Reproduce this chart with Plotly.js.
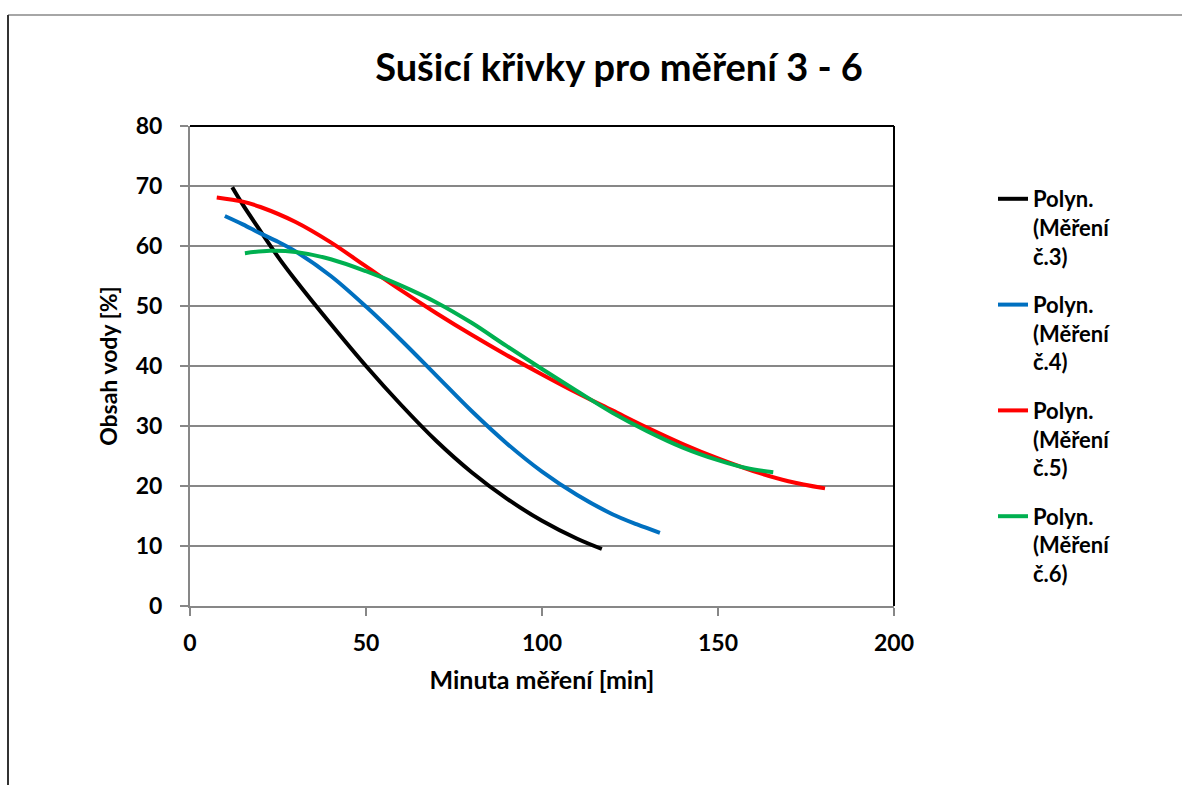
<!DOCTYPE html>
<html>
<head>
<meta charset="utf-8">
<script src="https://cdn.plot.ly/plotly-3.0.1.min.js"></script>
<style>
html,body{margin:0;padding:0;background:#fff;}
#chart{width:1182px;height:785px;}
</style>
</head>
<body>
<div id="chart"></div>
<script>
// Data
const seriesNames = ["Polyn.<br>(Měření<br>č.3)", "Polyn.<br>(Měření<br>č.4)", "Polyn.<br>(Měření<br>č.5)", "Polyn.<br>(Měření<br>č.6)"];
const seriesColors = ["#000000", "#0070C0", "#FF0000", "#00B050"];

const x3 = [12, 15, 20, 25, 30, 40, 50, 60, 70, 80, 90, 100, 110, 117];
const y3 = [69.8, 66.9, 62.5, 58.2, 54.3, 47.0, 40.0, 33.5, 27.5, 22.3, 17.9, 14.2, 11.2, 9.5];

const x4 = [9.9, 15, 20, 25, 30, 40, 50, 60, 70, 80, 90, 100, 110, 120, 127, 133.5];
const y4 = [65, 63.6, 62.1, 60.7, 59.1, 55.0, 49.9, 44.3, 38.4, 32.5, 27.1, 22.4, 18.5, 15.3, 13.6, 12.2];

const x5 = [7.6, 15, 20, 30, 40, 50, 60, 70, 80, 90, 100, 110, 120, 130, 140, 150, 160, 170, 180.4];
const y5 = [68.1, 67.4, 66.5, 64.0, 60.6, 56.6, 52.6, 48.8, 45.2, 41.8, 38.6, 35.5, 32.6, 29.7, 27.0, 24.6, 22.5, 20.8, 19.6];

const x6 = [15.6, 22.7, 30, 40, 50, 60, 70, 80, 90, 100, 110, 120, 130, 140, 150, 158, 165.7];
const y6 = [58.8, 59.2, 59.0, 57.8, 55.8, 53.4, 50.6, 47.2, 43.3, 39.5, 35.8, 32.2, 29.1, 26.4, 24.3, 23.0, 22.3];

const xTicks = [0, 50, 100, 150, 200];
const yTicks = [0, 10, 20, 30, 40, 50, 60, 70, 80];

const titleText = "Sušicí křivky pro měření 3 - 6";
const xTitle = "Minuta měření [min]";
const yTitle = "Obsah vody [%]";

const xs = [x3, x4, x5, x6];
const ys = [y3, y4, y5, y6];

const traces = xs.map((xv, i) => ({
  type: "scatter",
  mode: "lines",
  x: xv,
  y: ys[i],
  name: "<b>" + seriesNames[i] + "</b>",
  legendgroup: "g" + i,
  line: {color: seriesColors[i], width: 4, shape: "spline", smoothing: 1},
  hoverinfo: "x+y+name"
}));

const W = 1182, H = 785;
const M = {l: 190, r: 288, t: 126, b: 179};
const pw = W - M.l - M.r, ph = H - M.t - M.b;
const px2x = p => (p - M.l) / pw;
const py2y = p => (H - M.b - p) / ph;

const font = "Lato, 'Open Sans', sans-serif";
const gridCol = "#878787";

const layout = {
  width: W, height: H,
  margin: M,
  paper_bgcolor: "#ffffff",
  plot_bgcolor: "#ffffff",
  font: {family: font, color: "#000000"},
  title: {
    text: "<b>" + titleText + "</b>",
    font: {family: font, size: 38, color: "#000"},
    xref: "container", yref: "container",
    x: 619 / W, y: 1 - 68 / H, xanchor: "center", yanchor: "middle"
  },
  xaxis: {
    range: [0, 200],
    tickvals: xTicks,
    ticktext: xTicks.map(v => "<b>" + v + "</b>"),
    showgrid: false,
    zeroline: false,
    showline: true, linecolor: gridCol, linewidth: 2,
    ticks: "outside", ticklen: 8, tickwidth: 2, tickcolor: gridCol,
    tickfont: {family: font, size: 23, color: "#000"},
    ticklabelstandoff: 7,
    title: {text: "<b>" + xTitle + "</b>", font: {family: font, size: 25, color: "#000"}, standoff: 17},
    fixedrange: true
  },
  yaxis: {
    range: [0, 80],
    tickvals: yTicks,
    ticktext: yTicks.map(v => "<b>" + v + "</b>"),
    showgrid: true, gridcolor: gridCol, gridwidth: 2,
    zeroline: false,
    showline: true, linecolor: gridCol, linewidth: 2,
    ticks: "outside", ticklen: 8, tickwidth: 2, tickcolor: gridCol,
    tickfont: {family: font, size: 23, color: "#000"},
    ticklabelstandoff: 13,
    title: {text: "<b>" + yTitle + "</b>", font: {family: font, size: 23, color: "#000"}, standoff: 12},
    fixedrange: true
  },
  showlegend: true,
  legend: {
    x: px2x(993), y: py2y(178), xanchor: "left", yanchor: "top",
    font: {family: font, size: 22, color: "#000"},
    bgcolor: "rgba(0,0,0,0)",
    valign: "top",
    traceorder: "grouped",
    tracegroupgap: 17,
    itemwidth: 30
  },
  shapes: [
    // plot area top and right border
    {type: "line", xref: "paper", yref: "paper", x0: 0, x1: 1, y0: 1, y1: 1, line: {color: "#000", width: 2}},
    {type: "line", xref: "paper", yref: "paper", x0: 1, x1: 1, y0: 0, y1: 1, line: {color: "#000", width: 2}},
    // outer chart frame (top and left edges visible)
    {type: "line", xref: "paper", yref: "paper", x0: px2x(8), x1: px2x(1182), y0: py2y(15), y1: py2y(15), line: {color: "#a6a6a6", width: 2}},
    {type: "line", xref: "paper", yref: "paper", x0: px2x(8), x1: px2x(8), y0: py2y(15), y1: py2y(790), line: {color: "#333333", width: 2}}
  ]
};

Plotly.newPlot("chart", traces, layout, {displayModeBar: false});
</script>
</body>
</html>
